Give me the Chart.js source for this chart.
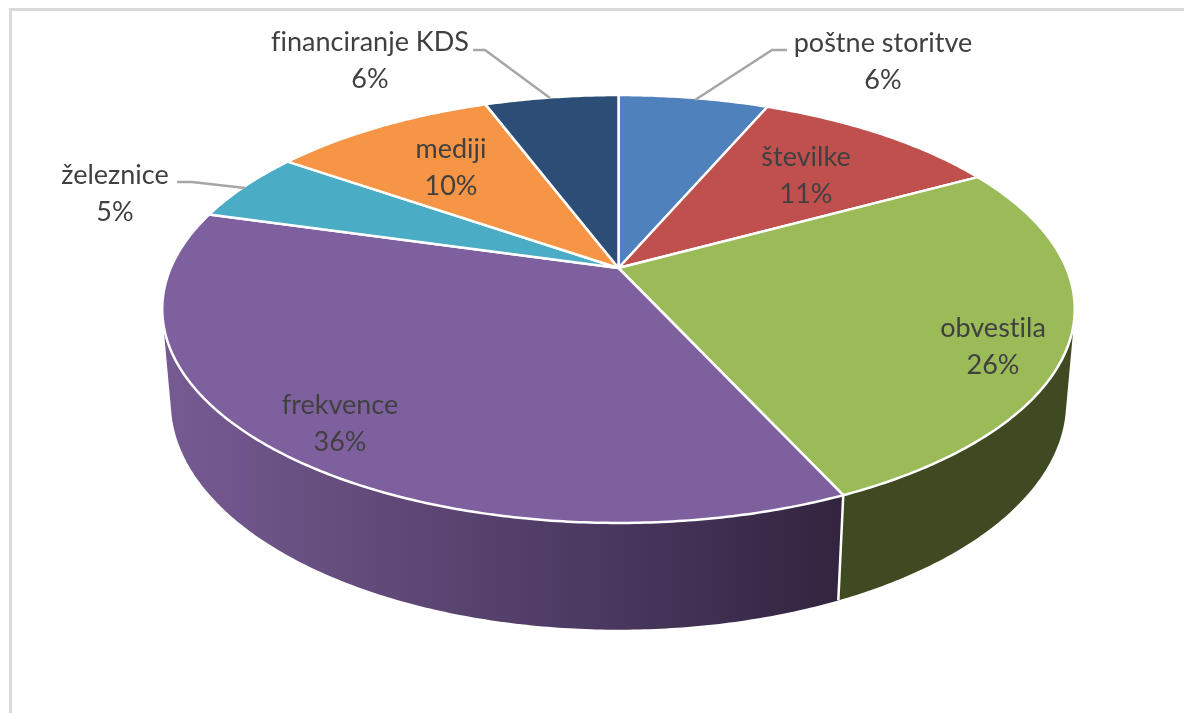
<!DOCTYPE html>
<html>
<head>
<meta charset="utf-8">
<title>Pie</title>
<style>
  html, body { margin: 0; padding: 0; background: #fff; overflow: hidden; }
  #frame { position: absolute; left: 9px; top: 8px; right: 0; bottom: 0; border-left: 3px solid #d9d9d9; border-top: 3px solid #d9d9d9; }
  #pie { position: absolute; left: 0; top: 0; }
</style>
</head>
<body>
<div id="frame"></div>
<canvas id="pie" width="1184" height="713"></canvas>
<script src="https://cdn.jsdelivr.net/npm/chart.js@4"></script>
<script>
// data (printed labels are these, rounded)
const categories = ['poštne storitve', 'številke', 'obvestila', 'frekvence', 'železnice', 'mediji', 'financiranje KDS'];
const shares = [6.4, 10.6, 26.2, 36.2, 5.3, 9.6, 5.7];
const sliceColors = ['#4f81bd', '#c0504d', '#9bbb59', '#7f609f', '#4bacc6', '#f59545', '#2c4d75'];

// label centres, same order as categories
const labelX = [883, 806, 993, 340, 115, 451, 370];
const labelY = [43, 157, 328, 405, 175, 149, 42];
const LINE_GAP = 37.5;

// leader lines: [category index, x/y pairs]
const leaders = [
  [0, [[787, 50], [772, 50], [695, 100]]],
  [4, [[177, 182], [192, 182], [245, 188]]],
  [6, [[473, 50], [485, 50], [550, 98]]],
];

// Perspective of the tilted disc. u,v on the unit circle, h=0 top face, h=1 bottom face
const APEX_X = 618.5, APEX_Y = 268;
function project(angle, h) {
  const u = Math.cos(angle), v = Math.sin(angle);
  const w = 1 - 0.1916 * v + 0.0185 * h;
  return [APEX_X + 447.8 * u / w, APEX_Y + (206.1 * v + 93 * h) / w];
}

function arcSteps(from, to) {
  return Math.max(2, Math.ceil(Math.abs(to - from) / 0.01));
}

function traceArc(ctx, from, to, h) {
  const steps = arcSteps(from, to);
  for (let i = 0; i <= steps; i++) {
    const [x, y] = project(from + (to - from) * i / steps, h);
    ctx.lineTo(x, y);
  }
}

// one quad per step, so the silhouette between the two rims gets filled as well
function traceWall(ctx, from, to) {
  const steps = arcSteps(from, to);
  for (let i = 0; i < steps; i++) {
    const a = from + (to - from) * i / steps;
    const b = from + (to - from) * (i + 1) / steps;
    // keep every quad wound the same way, else the tangent area can cancel out
    const quad = [project(a, 0), project(b, 0), project(b, 1), project(a, 1)];
    let area = 0;
    quad.forEach((p, k) => {
      const q = quad[(k + 1) % 4];
      area += p[0] * q[1] - q[0] * p[1];
    });
    if (area < 0) quad.reverse();
    ctx.moveTo(...quad[0]);
    ctx.lineTo(...quad[1]);
    ctx.lineTo(...quad[2]);
    ctx.lineTo(...quad[3]);
    ctx.closePath();
  }
}

function wallFill(ctx, index) {
  if (index === 3) {
    const g = ctx.createLinearGradient(165, 0, 840, 0);
    g.addColorStop(0, '#765b92');
    g.addColorStop(0.35, '#5f4876');
    g.addColorStop(0.65, '#4a3860');
    g.addColorStop(1, '#33243f');
    return g;
  }
  return index === 2 ? '#3f4a22' : sliceColors[index];
}

// The pie's arcs come from Chart.js; this only projects them on the tilted disc
const tiltedPie = {
  id: 'tiltedPie',
  beforeDatasetDraw(chart) {
    const ctx = chart.ctx;
    const arcs = chart.getDatasetMeta(0).data;
    ctx.save();
    // side wall
    arcs.forEach((arc, i) => {
      ctx.beginPath();
      traceWall(ctx, arc.startAngle, arc.endAngle);
      ctx.fillStyle = wallFill(ctx, i);
      ctx.fill();
    });
    // seam between the two visible walls
    const seam = arcs[2].endAngle;
    ctx.beginPath();
    ctx.moveTo(...project(seam, 0));
    ctx.lineTo(...project(seam, 1));
    ctx.strokeStyle = '#fff';
    ctx.lineWidth = 2.5;
    ctx.stroke();
    // top face
    arcs.forEach((arc, i) => {
      ctx.beginPath();
      ctx.moveTo(APEX_X, APEX_Y);
      traceArc(ctx, arc.startAngle, arc.endAngle, 0);
      ctx.closePath();
      ctx.fillStyle = sliceColors[i];
      ctx.fill();
      ctx.strokeStyle = '#fff';
      ctx.lineWidth = 2.5;
      ctx.lineJoin = 'round';
      ctx.stroke();
    });
    ctx.restore();
    return false;
  },
  afterDatasetsDraw(chart) {
    const ctx = chart.ctx;
    ctx.save();
    ctx.strokeStyle = '#a6a6a6';
    ctx.lineWidth = 2.5;
    leaders.forEach(([, pts]) => {
      ctx.beginPath();
      pts.forEach(([x, y], i) => (i ? ctx.lineTo(x, y) : ctx.moveTo(x, y)));
      ctx.stroke();
    });
    ctx.fillStyle = '#404040';
    ctx.font = '27px Lato';
    ctx.letterSpacing = '0.01px'; // no fi/ti ligatures
    ctx.textAlign = 'center';
    ctx.textBaseline = 'middle';
    categories.forEach((name, i) => {
      ctx.fillText(name, labelX[i], labelY[i]);
      ctx.fillText(Math.round(shares[i]) + '%', labelX[i], labelY[i] + LINE_GAP);
    });
    ctx.restore();
  }
};

new Chart(document.getElementById('pie'), {
  type: 'pie',
  data: {
    labels: categories,
    datasets: [{ data: shares, backgroundColor: sliceColors, borderColor: '#fff', borderWidth: 2 }]
  },
  options: {
    responsive: false,
    animation: false,
    plugins: { legend: { display: false }, tooltip: { enabled: false } }
  },
  plugins: [tiltedPie]
});
</script>
</body>
</html>
